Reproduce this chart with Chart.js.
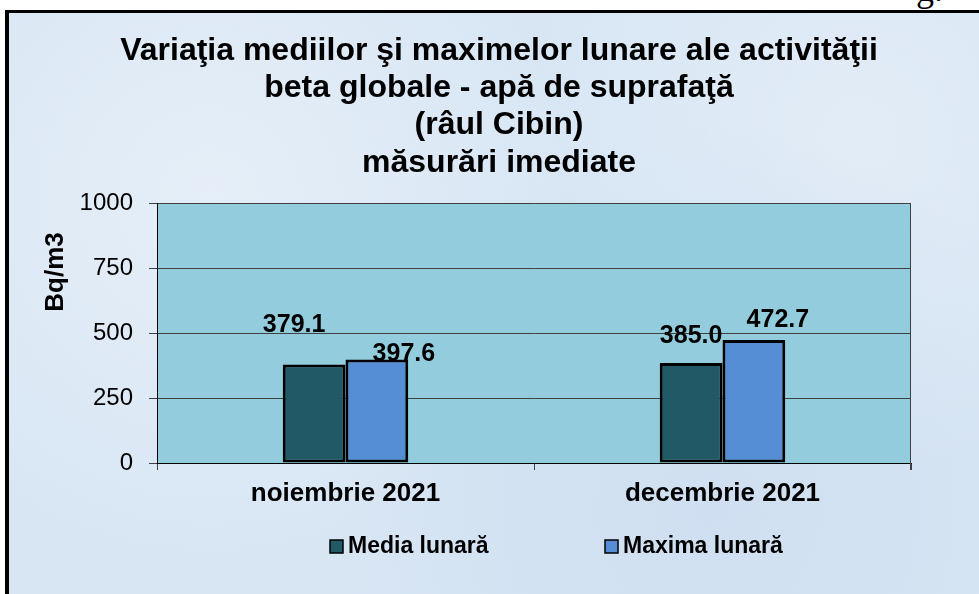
<!DOCTYPE html>
<html>
<head>
<meta charset="utf-8">
<script src="https://cdn.jsdelivr.net/npm/chart.js@4.4.0/dist/chart.umd.min.js"></script>
<style>
  html, body { margin: 0; padding: 0; background: #fff; overflow: hidden; }
  #frame {
    position: absolute; left: 5px; top: 10px; width: 1000px; height: 620px;
    border-left: 4px solid #000; border-top: 3px solid #000;
    background-color: #d8e6f4;
    background-image:
      radial-gradient(circle at 20% 30%, rgba(255,255,255,0.35), transparent 40%),
      radial-gradient(circle at 70% 80%, rgba(190,210,235,0.35), transparent 45%),
      radial-gradient(circle at 85% 20%, rgba(255,255,255,0.25), transparent 35%);
  }
  #corner {
    position: absolute; left: 916px; top: -29px;
    font: 36px "Liberation Serif", "Times New Roman", serif; line-height: 1; color: #000;
  }
  #c { position: absolute; left: 0; top: 0; }
</style>
</head>
<body>
<div id="corner">g.</div>
<div id="frame"></div>
<canvas id="c" width="979" height="594"></canvas>
<script>
// date
const luni = ['noiembrie 2021', 'decembrie 2021'];
const mediaLunara = [379.1, 385.0];
const maximaLunara = [397.6, 472.7];
const serii = ['Media lunară', 'Maxima lunară'];
const titlu = [
  'Variaţia mediilor şi maximelor lunare ale activităţii',
  'beta globale - apă de suprafaţă',
  '(râul Cibin)',
  'măsurări imediate'
];
const axaY = 'Bq/m3';

const FONT = "'Liberation Sans', Arial, sans-serif";
const culori = ['#215967', '#558ed5'];

// decalaje etichete (centru text fata de varful barei)
const decalaje = [
  [[-20, -39], [0, -27]],
  [[27, -6], [24, -20]]
];
const legendaX = [330, 605];

// fundal zona grafic + chenar dreapta
const zonaPlot = {
  id: 'zonaPlot',
  beforeDraw(chart) {
    const { ctx, chartArea: a } = chart;
    ctx.save();
    ctx.fillStyle = '#93cddd';
    ctx.fillRect(a.left, a.top, a.right - a.left, a.bottom - a.top);
    ctx.restore();
  },
  afterDatasetsDraw(chart) {
    const { ctx, chartArea: a } = chart;
    ctx.save();
    ctx.strokeStyle = '#404040';
    ctx.lineWidth = 1;
    ctx.beginPath();
    ctx.moveTo(a.right - 0.5, a.top);
    ctx.lineTo(a.right - 0.5, a.bottom + 7);
    ctx.stroke();
    ctx.restore();
  }
};

// titlu, etichete valori, titlu axa Y, legenda
const texte = {
  id: 'texte',
  afterDraw(chart) {
    const ctx = chart.ctx;
    ctx.save();
    ctx.fillStyle = '#000';

    // titlu
    ctx.textAlign = 'center';
    ctx.textBaseline = 'alphabetic';
    ctx.font = 'bold 32px ' + FONT;
    titlu.forEach((linie, k) => ctx.fillText(linie, 499, 60 + k * 37.2));

    // valori pe bare
    ctx.textBaseline = 'middle';
    ctx.font = 'bold 25px ' + FONT;
    chart.data.datasets.forEach((ds, i) => {
      chart.getDatasetMeta(i).data.forEach((bar, j) => {
        const [dx, dy] = decalaje[i][j];
        ctx.fillText(ds.data[j].toFixed(1), bar.x + dx, bar.y + dy);
      });
    });

    // titlu axa Y
    ctx.save();
    ctx.translate(56, 272);
    ctx.rotate(-Math.PI / 2);
    ctx.font = 'bold 26px ' + FONT;
    ctx.fillText(axaY, 0, 0);
    ctx.restore();

    // legenda
    ctx.textAlign = 'left';
    ctx.textBaseline = 'alphabetic';
    ctx.font = 'bold 23px ' + FONT;
    chart.data.datasets.forEach((ds, i) => {
      const x = legendaX[i];
      ctx.fillStyle = ds.backgroundColor;
      ctx.fillRect(x, 540, 13, 13);
      ctx.strokeStyle = '#000';
      ctx.lineWidth = 1.5;
      ctx.strokeRect(x, 540, 13, 13);
      ctx.fillStyle = '#000';
      ctx.fillText(ds.label, x + 18, 553);
    });
    ctx.restore();
  }
};

new Chart(document.getElementById('c'), {
  type: 'bar',
  data: {
    labels: luni,
    datasets: [
      { label: serii[0], data: mediaLunara, backgroundColor: culori[0], borderColor: '#000', borderWidth: 3, borderSkipped: false },
      { label: serii[1], data: maximaLunara, backgroundColor: culori[1], borderColor: '#000', borderWidth: 3, borderSkipped: false }
    ]
  },
  options: {
    responsive: false,
    animation: false,
    devicePixelRatio: 1,
    layout: { padding: { top: 203, left: 0, right: 68, bottom: 71 } },
    datasets: { bar: { categoryPercentage: 0.333, barPercentage: 1 } },
    plugins: {
      legend: { display: false },
      tooltip: { enabled: false },
      title: { display: false }
    },
    scales: {
      x: {
        afterFit(s) { s.height = 60; },
        grid: { drawOnChartArea: false, drawTicks: true, tickLength: 7, color: '#404040' },
        border: { color: '#000', width: 1 },
        ticks: { color: '#000', padding: 8, font: { family: FONT, size: 26, weight: 'bold' } }
      },
      y: {
        min: 0, max: 1000,
        afterFit(s) { s.width = 157; },
        grid: { color: '#404040', tickLength: 8 },
        border: { color: '#000', width: 1 },
        ticks: {
          stepSize: 250, color: '#000', padding: 16,
          font: { family: FONT, size: 24 },
          callback: v => String(v)
        }
      }
    }
  },
  plugins: [zonaPlot, texte]
});
</script>
</body>
</html>
